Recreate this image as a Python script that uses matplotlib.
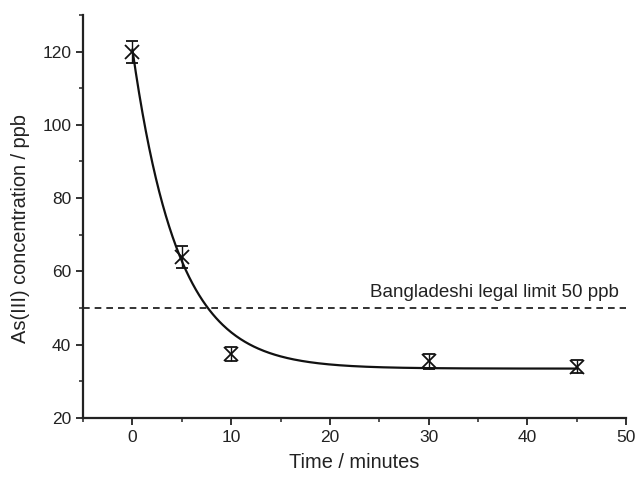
import numpy as np
import matplotlib
matplotlib.use("Agg")
import matplotlib.pyplot as plt
from matplotlib.ticker import MultipleLocator

plt.rcParams['font.family'] = ['Liberation Sans', 'DejaVu Sans']

# Data
time_min = [0, 5, 10, 30, 45]
conc_ppb = [120.0, 64.0, 37.5, 35.5, 34.0]
conc_err = [3.0, 3.0, 2.0, 2.0, 1.8]

# Exponential decay fit parameters (y = y0 + A*exp(-t/tau))
fit_y0 = 33.5
fit_A = 87.0
fit_tau = 4.6
fit_t_start, fit_t_end = 0, 45

legal_limit = 50
limit_label = "Bangladeshi legal limit 50 ppb"

fig = plt.figure(figsize=(6.39, 4.8), dpi=100)
ax = fig.add_axes([0.130, 0.129, 0.850, 0.840])

t_fit = np.linspace(fit_t_start, fit_t_end, 400)
ax.plot(t_fit, fit_y0 + fit_A * np.exp(-t_fit / fit_tau), color='#111111', lw=1.6)

ax.errorbar(time_min, conc_ppb, yerr=conc_err, fmt='x', color='#111111',
            ms=10, mew=1.3, ecolor='#111111', elinewidth=1.0, capsize=4, capthick=1.0)

ax.axhline(legal_limit, color='#111111', ls=(0, (4, 3)), lw=1.2)
ax.text(49.3, legal_limit + 3.0, limit_label, ha='right', va='baseline', fontsize=13.5,
        color='#222222')

ax.set_xlim(-5, 50)
ax.set_ylim(20, 130)
ax.set_xticks([0, 10, 20, 30, 40, 50])
ax.set_yticks([20, 40, 60, 80, 100, 120])
ax.xaxis.set_minor_locator(MultipleLocator(5))
ax.yaxis.set_minor_locator(MultipleLocator(10))
for s in ['top', 'right']:
    ax.spines[s].set_visible(False)
for s in ['left', 'bottom']:
    ax.spines[s].set_linewidth(1.6)
    ax.spines[s].set_color('#222222')
ax.tick_params(which='major', direction='out', length=5, width=1.3, labelsize=12.5, colors='#222222')
ax.tick_params(which='minor', direction='out', length=3, width=1.1, colors='#222222')
ax.set_xlabel("Time / minutes", fontsize=14.4, labelpad=6, color='#222222')
ax.set_ylabel("As(III) concentration / ppb", fontsize=14.4, color='#222222')
ax.yaxis.set_label_coords(-0.097, 0.47)

fig.savefig("out.png", dpi=100)
